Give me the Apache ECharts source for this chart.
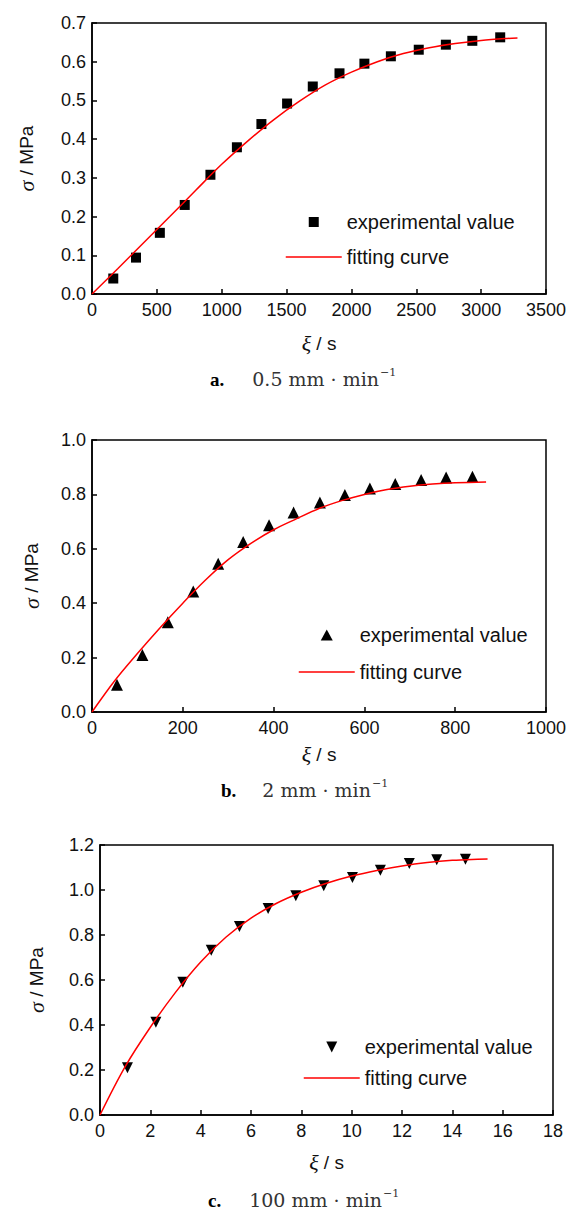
<!DOCTYPE html>
<html><head><meta charset="utf-8">
<script src="https://cdn.jsdelivr.net/npm/echarts@6/dist/echarts.min.js"></script>
<style>html,body{margin:0;padding:0;background:#fff}#c{width:576px;height:1212px}</style>
</head><body><div id="c"></div>
<script>
// ---------- data ----------
// panel a: 0.5 mm/min
const expAx = [164,339,523,715,913,1117,1306,1504,1702,1908,2100,2304,2519,2728,2932,3147];
const expAy = [0.040,0.094,0.158,0.230,0.308,0.379,0.439,0.492,0.536,0.570,0.595,0.614,0.631,0.644,0.654,0.663];
const fitAx = [0,200,400,600,800,1000,1200,1400,1600,1800,2000,2200,2400,2600,2800,3000,3200,3280];
const fitAy = [0,0.066,0.133,0.200,0.268,0.335,0.395,0.450,0.498,0.540,0.573,0.600,0.621,0.636,0.647,0.655,0.660,0.661];
// panel b: 2 mm/min
const expBx = [55,111,167,223,278,333,390,444,502,557,612,668,725,780,838];
const expBy = [0.100,0.210,0.330,0.443,0.545,0.625,0.687,0.733,0.770,0.798,0.822,0.838,0.853,0.862,0.865];
const fitBx = [0,50,100,150,200,250,300,350,400,450,500,550,600,650,700,750,800,868];
const fitBy = [0,0.115,0.215,0.310,0.400,0.485,0.560,0.620,0.670,0.710,0.748,0.777,0.800,0.818,0.830,0.838,0.843,0.846];
// panel c: 100 mm/min
const expCx = [1.09,2.22,3.29,4.42,5.54,6.68,7.78,8.89,10.03,11.14,12.29,13.38,14.52];
const expCy = [0.210,0.412,0.590,0.732,0.838,0.918,0.975,1.019,1.056,1.088,1.118,1.134,1.137];
const fitCx = [0,1,2,3,4,5,6,7,8,9,10,11,12,13,14,15,15.4];
const fitCy = [0,0.215,0.390,0.545,0.680,0.790,0.875,0.940,0.990,1.030,1.062,1.087,1.107,1.122,1.132,1.137,1.138];

const legendExp = 'experimental value';
const legendFit = 'fitting curve';
const yName = '{i|σ} / MPa';
const xName = '{i|ξ} / s';
const captionLabels = ['a.', 'b.', 'c.'];
const captionRates = ['0.5 mm · min', '2 mm · min', '100 mm · min'];
const captionSup = '−1';

// ---------- styling / layout ----------
const SANS = 'Liberation Sans, Arial, sans-serif';
const SERIF = 'Liberation Serif, Times New Roman, serif';
const SERIF2 = 'DejaVu Serif, serif';
const pair = (xs, ys) => xs.map((x, i) => [x, ys[i]]);

const grids = [
  {left: 92, top: 23, width: 454, height: 271},
  {left: 92, top: 440, width: 454, height: 272},
  {left: 100, top: 845, width: 453, height: 270}
];
const xCfg = [
  {min: 0, max: 3500, interval: 500, gap: 38},
  {min: 0, max: 1000, interval: 200, gap: 31},
  {min: 0, max: 18, interval: 2, gap: 36}
];
const yCfg = [
  {min: 0, max: 0.7, interval: 0.1, gap: 55},
  {min: 0, max: 1.0, interval: 0.2, gap: 50},
  {min: 0, max: 1.2, interval: 0.2, gap: 53}
];
const nameStyle = {fontSize: 19, fontFamily: SANS, color: '#111',
  rich: {i: {fontFamily: SERIF, fontStyle: 'italic', fontSize: 22, color: '#111'}}};
const axisCommon = {
  axisLine: {show: true, onZero: false, lineStyle: {color: '#000', width: 1.5}},
  axisTick: {show: true, inside: true, length: 5, lineStyle: {color: '#000', width: 1.5}},
  splitLine: {show: false}
};

const xAxis = xCfg.map((c, i) => Object.assign({
  type: 'value', gridIndex: i, min: c.min, max: c.max, interval: c.interval,
  name: xName, nameLocation: 'middle', nameGap: c.gap, nameTextStyle: nameStyle,
  axisLabel: {fontSize: 18, fontFamily: SANS, color: '#111', margin: 7, formatter: v => String(v)}
}, axisCommon));
const yAxis = yCfg.map((c, i) => Object.assign({
  type: 'value', gridIndex: i, min: c.min, max: c.max, interval: c.interval,
  name: yName, nameLocation: 'middle', nameGap: c.gap, nameTextStyle: nameStyle,
  axisLabel: {fontSize: 18, fontFamily: SANS, color: '#111', margin: 6, formatter: v => v.toFixed(1)}
}, axisCommon));

const symbols = [
  {symbol: 'rect', size: 10, rotate: 0},
  {symbol: 'triangle', size: 12, rotate: 0},
  {symbol: 'triangle', size: 11, rotate: 180}
];
// legend icons: centred symbol inside a 56-wide icon box (invisible moveTo points fix the box)
const legendIcons = [
  'path://M0,0M56,10M23,0L33,0L33,10L23,10Z',
  'path://M0,0M56,11M22,11L28,0L34,11Z',
  'path://M0,0M56,11M22.5,0L33.5,0L28,11Z'
];
const expData = [pair(expAx, expAy), pair(expBx, expBy), pair(expCx, expCy)];
const fitData = [pair(fitAx, fitAy), pair(fitBx, fitBy), pair(fitCx, fitCy)];
const tags = ['a', 'b', 'c'];

const series = [];
tags.forEach((t, i) => {
  series.push({
    name: legendExp + ' (' + t + ')', type: 'scatter', xAxisIndex: i, yAxisIndex: i,
    data: expData[i], symbol: symbols[i].symbol, symbolSize: symbols[i].size,
    symbolRotate: symbols[i].rotate, symbolKeepAspect: true,
    itemStyle: {color: '#000', opacity: 1}, z: 2
  });
  series.push({
    name: legendFit + ' (' + t + ')', type: 'line', xAxisIndex: i, yAxisIndex: i,
    data: fitData[i], smooth: 0.35, symbol: 'none', showSymbol: false,
    lineStyle: {color: '#ff0000', width: 1.5}, itemStyle: {color: '#ff0000'}, z: 3
  });
});

const legendPos = [
  {left: 285, top: 212, gap: 15, h: 10},
  {left: 298, top: 625, gap: 17, h: 11},
  {left: 303, top: 1037, gap: 11, h: 11}
];
const legend = tags.map((t, i) => ({
  orient: 'vertical', left: legendPos[i].left, top: legendPos[i].top,
  itemWidth: 56, itemHeight: legendPos[i].h, itemGap: legendPos[i].gap,
  selectedMode: false, padding: 0,
  textStyle: {fontSize: 20, fontFamily: SANS, color: '#111', lineHeight: 20},
  formatter: n => n.replace(/ \([abc]\)$/, ''),
  data: [
    {name: legendExp + ' (' + t + ')', icon: legendIcons[i], itemStyle: {color: '#000', opacity: 1}},
    {name: legendFit + ' (' + t + ')', itemStyle: {opacity: 0}, lineStyle: {color: '#ff0000', width: 1.5}}
  ]
}));

// captions
const capPos = [
  {x: 210, y: 379, gap: 28},
  {x: 221, y: 790, gap: 26},
  {x: 208, y: 1200, gap: 28}
];
const graphic = capPos.map((p, i) => ({
  type: 'text', left: p.x, top: p.y - 12,
  style: {
    text: '{b|' + captionLabels[i] + '}{g|}{n|' + captionRates[i] + '}{s|' + captionSup + '}',
    rich: {
      b: {font: 'bold 19px ' + SERIF, fill: '#000', lineHeight: 24},
      g: {width: p.gap, lineHeight: 24},
      n: {font: '19px ' + SERIF2, fill: '#333', lineHeight: 24},
      s: {font: '11px ' + SERIF2, fill: '#333', verticalAlign: 'top', lineHeight: 24, padding: [0, 0, 12, 1]}
    }
  }
}));

const chart = echarts.init(document.getElementById('c'), null, {renderer: 'svg', width: 576, height: 1212});
chart.setOption({
  backgroundColor: '#fff',
  animation: false,
  grid: grids.map(g => Object.assign({show: true, borderColor: '#000', borderWidth: 1.5, containLabel: false}, g)),
  xAxis, yAxis, series, legend, graphic
});
</script></body></html>
